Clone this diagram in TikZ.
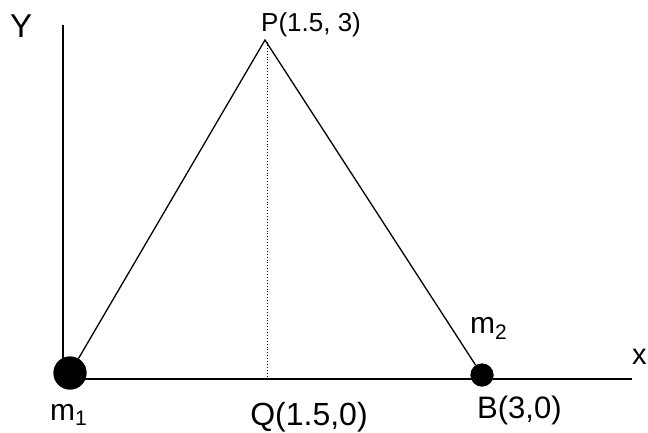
\documentclass[tikz,border=0pt]{standalone}
\usepackage{fontspec}
\setmainfont{Liberation Sans}
\newcommand{\fsz}[1]{\fontsize{#1}{#1}\selectfont}
\tikzset{
  mass/.style={circle,fill=black,inner sep=0pt},
  lab/.style={inner sep=0pt,anchor=base west},
  axis/.style={line width=1.3pt},
}
\begin{document}
\begin{tikzpicture}[x=1pt,y=-1pt]
    \useasboundingbox (0,0) rectangle (648,432);
    \coordinate (ytop) at (63,25);
    \coordinate (ybot) at (63,372);
    \coordinate (O) at (70,379);
    \coordinate (Bx) at (482,379);
    \coordinate (xend) at (632,379);
    \coordinate (P) at (265,40);
    \coordinate (Ptop) at (267,42);
    \coordinate (Q) at (267,377);

    \node[mass,minimum size=33pt] (m1) at (70,373) {};
    \node[mass,minimum size=23pt] (B) at (482,375) {};

    \draw[axis] (ytop) -- (ybot);
    \draw[line width=2.8pt] (O) -- (Bx);
    \draw[line width=2pt] (Bx) -- (xend);
    \draw[dotted,line width=0.9pt] (Ptop) -- (Q);
    \draw[axis] (m1) -- (P) -- (B);
    \node[mass,minimum size=33pt] at (m1) {};
    \node[mass,minimum size=23pt] at (B) {};

    \node[lab,font=\fsz{33}] (ylab) at (10,37) {Y};
    \node[lab,font=\fsz{26}] (plab) at (261,31) {P(1.5, 3)};
    \node[lab,font=\fsz{32},anchor=base] (qlab) at (309,425) {Q(1.5,0)};
    \node[lab,font=\fsz{31}] (blab) at (477,418) {B(3,0)};
    \node[lab,font=\fsz{30}] (m1lab) at (50,420) {m\textsubscript{1}};
    \node[lab,font=\fsz{30}] (m2lab) at (470,333) {m\textsubscript{2}};
    \node[lab,font=\fsz{29}] (xlab) at (632,364) {x};
\end{tikzpicture}
\end{document}
